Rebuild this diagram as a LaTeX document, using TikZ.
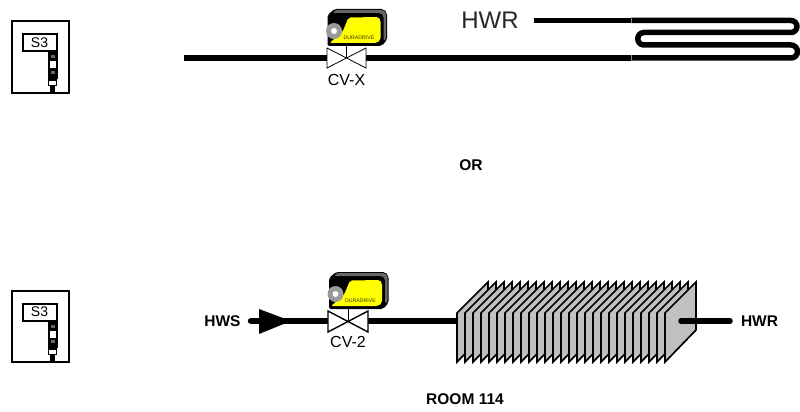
\documentclass[tikz,border=0pt]{standalone}
\usepackage{fontspec}
\setmainfont{Liberation Sans}
\usetikzlibrary{positioning,calc}
\definecolor{fanYellow}{HTML}{FFFF00}
\definecolor{finGray}{HTML}{C0C0C0}
\definecolor{hubGray}{HTML}{9A9A9A}
\definecolor{bodyGray}{HTML}{666666}
\tikzset{
  pipe/.style={line width=5.5pt, black},
  coil/.style={pipe, line cap=round, line join=round},
  tag/.style={font=\fontsize{16}{16}\selectfont, inner sep=0pt},
  bigtag/.style={font=\fontsize{24}{24}\selectfont, inner sep=0pt, text=black!85},
  boldtag/.style={font=\fontsize{15.5}{15.5}\selectfont\bfseries, inner sep=0pt},
  panel/.style={draw, line width=2pt, fill=white, minimum width=57pt, minimum height=71pt, inner sep=0pt},
  namebox/.style={draw, line width=2pt, fill=white, minimum width=34pt, minimum height=17pt, inner sep=0pt, font=\fontsize{14}{14}\selectfont},
  valvebow/.style={draw, line width=0.8pt, fill=white, line join=miter},
  fin/.style={draw, line width=1.7pt, fill=finGray, line join=miter}
}
% thermostat panel with its S3 label
\newcommand{\thermostat}[2]{
  \node[panel] (#2) at #1 {};
  \node[namebox, anchor=north west] (#2name) at ($(#2.north west)+(11,13)$) {S3};
  \fill ($(#2name.south east)+(-10,0)$) rectangle ++(10,26);
  \fill[white] ($(#2name.south east)+(-8,9)$) rectangle ++(6,7);
  \fill[bodyGray] ($(#2name.south east)+(-7,3)$) rectangle ++(4,3);
  \fill[bodyGray] ($(#2name.south east)+(-7,18.5)$) rectangle ++(4,3);
  \draw[line width=1.4pt, fill=white] ($(#2name.south east)+(-9,27.5)$) rectangle ++(8,5.5);
  \fill ($(#2name.south east)+(-7.5,33)$) rectangle ++(5,6);
}
% actuator, drawn from the valve centre
\newcommand{\actuator}[1]{
  \begin{scope}[shift={#1}]
    \draw[line width=0.8pt] (0,-12) -- (0,0);
    \fill[black, rounded corners=2pt] (-19,-43) -- (-12,-49) -- (37,-49) -- (40.5,-45) -- (40.5,-18) -- (35,-12) -- (-19,-12) -- cycle;
    \fill[bodyGray, rounded corners=1.5pt] (-11,-48) -- (36.5,-48) -- (39.5,-45) -- (39.5,-19) -- (37,-17) -- (37,-42) -- (34,-45) -- (-14,-45) -- cycle;
    \fill[fanYellow, rounded corners=2pt] (2,-40.5) -- (32,-41) -- (34,-38) -- (34,-18) -- (30,-15) -- (-17,-15) -- (-4,-26) -- cycle;
    \fill[hubGray] (-12.5,-27) circle (8);
    \fill[white] (-12.5,-27) circle (3);
    \node[font=\fontsize{5.2}{5.2}\selectfont, inner sep=0pt, text=black!80!fanYellow] at (12.5,-20) {DURADRIVE};
  \end{scope}
}
\begin{document}
\begin{tikzpicture}[x=1pt,y=-1pt]
  \useasboundingbox (0,0) rectangle (800,412);
  % top run
  \thermostat{(40,57)}{panelx}
  \coordinate (cvxin) at (184,58);
  \coordinate (cvxleft) at (327,58);
  \coordinate (cvxright) at (366,58);
  \coordinate (seam) at (631,58);
  \draw[pipe] (cvxin) -- (cvxleft);
  \draw[pipe] (cvxright) -- (seam);
  \actuator{(346.5,58)}
  \draw[valvebow] (327,48) -- (366,68) -- (366,48) -- (327,68) -- cycle;
  \node[tag] (cvx) at (346.5,80) {CV-X};
  \node[bigtag] (hwrtop) at (490,20) {HWR};
  \draw[pipe] (534,20.5) -- (631,20.5);
  \draw[pipe, line join=round] (631,20.5) -- (791,20.5) arc[start angle=-90, end angle=90, radius=6] -- (644,32.5) arc[start angle=270, end angle=90, radius=6.25] -- (791,45) arc[start angle=-90, end angle=90, radius=6.5] -- (seam);
  \draw[black!45, line width=0.6pt] (631,17.5) -- (631,23.5) (631,55) -- (631,61);
  % or
  \node[boldtag] (ortag) at (471,165) {OR};
  % bottom run
  \thermostat{(40,326)}{panelv}
  \node[boldtag] (hws) at (222.5,321) {HWS};
  \coordinate (hwsin) at (251,321);
  \coordinate (cv2left) at (328,321);
  \coordinate (cv2right) at (368,321);
  \draw[pipe, line width=6.5pt, line cap=round] (hwsin) -- (cv2left);
  \draw[pipe, line width=6.5pt] (cv2right) -- (457,321);
  \fill (259,309) -- (291,321) -- (259,334) -- cycle;
  \actuator{(348,321)}
  \draw[valvebow, line width=1.4pt] (328,311) -- (368,332) -- (368,311) -- (328,332) -- cycle;
  \node[tag] (cv2) at (348,342) {CV-2};
  % radiator fins
  \foreach \i in {0,...,26}
    \draw[fin] ({457+\i*8},313) -- ++(31,-31) -- ++(0,48) -- ++(-31,32) -- cycle;
  \draw[coil] (681,321) -- (730,321);
  \node[boldtag] (hwr) at (759.5,321) {HWR};
  \node[boldtag] (room) at (465,399) {ROOM 114};
\end{tikzpicture}
\end{document}
